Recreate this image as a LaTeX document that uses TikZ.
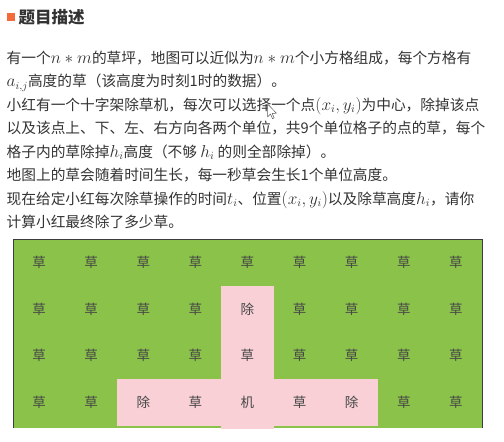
\documentclass[tikz,border=0pt]{standalone}
\usepackage[no-math]{fontspec}
\setmainfont{Noto Sans CJK SC}
\usepackage{xcolor}

\definecolor{grass}{HTML}{8BC34A}
\definecolor{cutpink}{HTML}{F8D0D6}
\definecolor{ink}{HTML}{333333}
\definecolor{headmark}{HTML}{F26B3A}
\definecolor{gridframe}{HTML}{3C3C3C}

\newcommand{\mx}[1]{{\fontsize{16}{16}\selectfont$#1$}}

\tikzset{
  textline/.style={anchor=base west, inner sep=0pt, text=ink, font=\fontsize{14.7}{14.7}\selectfont},
  cellchar/.style={inner sep=0pt, text=ink!90, font=\fontsize{13.5}{13.5}\selectfont}
}

\begin{document}
\begin{tikzpicture}[x=1pt,y=-1pt]
\useasboundingbox (0,0) rectangle (504,442);

% title
\fill[headmark] (7.3,13.3) rectangle (15,20.7);
\node[textline, font=\fontsize{16.5}{16.5}\selectfont\bfseries] (title) at (18.5,23.6) {题目描述};

% statement, one node per printed line
\node[textline] (line1) at (6.5,63.3) {有一个\mx{n*m}的草坪，地图可以近似为\mx{n*m}个小方格组成，每个方格有};
\node[textline] (line2) at (6.5,86.8) {\mx{a_{i,j}}高度的草（该高度为时刻1时的数据）。};
\node[textline] (line3) at (6.5,110.3) {小红有一个十字架除草机，每次可以选择一个点\mx{(x_i,y_i)}为中心，除掉该点};
\node[textline] (line4) at (6.5,133.8) {以及该点上、下、左、右方向各两个单位，共9个单位格子的点的草，每个};
\node[textline] (line5) at (6.5,157.3) {格子内的草除掉\mx{h_i}高度（不够 \mx{h_i} 的则全部除掉）。};
\node[textline] (line6) at (6.5,180.8) {地图上的草会随着时间生长，每一秒草会生长1个单位高度。};
\node[textline] (line7) at (6.5,204.3) {现在给定小红每次除草操作的时间\mx{t_i}、位置\mx{(x_i,y_i)}以及除草高度\mx{h_i}，请你};
\node[textline] (line8) at (6.5,227.8) {计算小红最终除了多少草。};

% mouse pointer
\draw[gray!70!black, fill=white, line width=0.5pt, line join=round]
  (267.5,104)--++(0,13)--++(3,-3)--++(2,4.6)--++(1.7,-0.7)--++(-2,-4.5)--++(4.3,-0.2)--cycle;

% lawn
\begin{scope}
\clip (13,239) rectangle (482,428);
\fill[grass] (13,239) rectangle (482,428);
\fill[cutpink] (221.4,285.7) rectangle (273.5,480);
\fill[cutpink] (117.2,379.1) rectangle (377.7,425.8);
\end{scope}
\draw[gridframe, line width=0.9pt] (13,428)--(13,239)--(482,239)--(482,428);

\foreach \row [count=\r from 0] in {
  {草,草,草,草,草,草,草,草,草},
  {草,草,草,草,除,草,草,草,草},
  {草,草,草,草,草,草,草,草,草},
  {草,草,除,草,机,草,除,草,草}}
{
  \foreach \ch [count=\c from 0] in \row
    \node[cellchar] (c-\r-\c) at ({13+52.1*(\c+0.5)},{239+46.7*(\r+0.5)}) {\ch};
}

\end{tikzpicture}
\end{document}
